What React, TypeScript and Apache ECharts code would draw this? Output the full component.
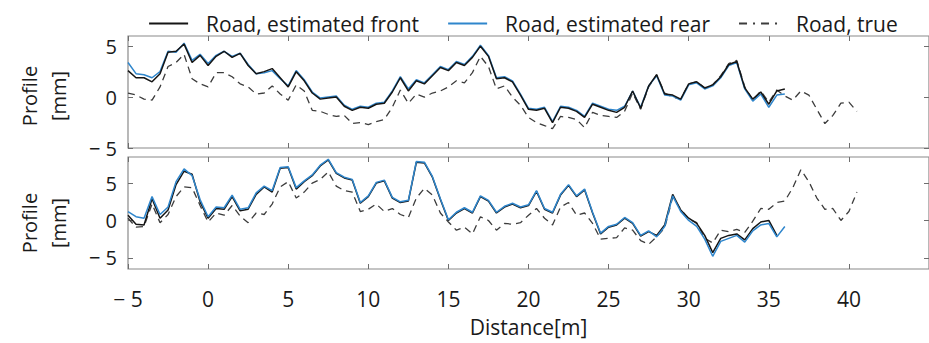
import React, { useEffect, useRef } from 'react';
import * as echarts from 'echarts';

// Distance sampling of the profiles (m)
const X_START = -5;
const X_STEP = 0.5;

const xTickValues = [-5, 0, 5, 10, 15, 20, 25, 30, 35, 40];
const yTickValues = [-5, 0, 5];

const seriesNames = ['Road, estimated front', 'Road, estimated rear', 'Road, true'];

// Top panel (mm), x = -5 ... 36
const topFront = [
  2.6, 1.9, 1.9, 1.5, 2.3, 4.4, 4.5, 5.2, 3.4, 4.1,
  3.1, 4.0, 4.5, 3.9, 4.3, 3.1, 2.3, 2.5, 2.8, 1.9,
  1.0, 2.5, 1.6, 0.4, -0.2, -0.1, 0.0, -0.9, -1.3, -1.0,
  -1.1, -0.7, -0.6, 0.5, 1.9, 0.6, 1.6, 1.3, 2.1, 2.9,
  2.6, 3.4, 3.1, 3.9, 5.0, 4.0, 1.8, 1.9, 1.5, 0.2,
  -1.2, -1.3, -1.1, -2.5, -1.0, -1.1, -1.4, -2.0, -0.7, -1.0,
  -1.3, -1.5, -1.0, 0.6, -1.1, 1.1, 2.2, 0.3, 0.2, -0.2,
  1.3, 1.5, 0.9, 1.2, 2.0, 3.2, 3.5, 0.9, -0.2, 0.5,
  -0.7, 0.6, 0.8,
];
const topRear = [
  3.4, 2.3, 2.2, 1.9, 2.5, 4.5, 4.4, 5.3, 3.6, 4.2,
  3.3, 4.1, 4.5, 4.0, 4.3, 3.2, 2.3, 2.4, 2.6, 1.8,
  1.1, 2.6, 1.7, 0.5, -0.1, 0.0, 0.1, -0.8, -1.2, -0.9,
  -1.0, -0.6, -0.5, 0.6, 2.0, 0.8, 1.7, 1.4, 2.2, 3.0,
  2.7, 3.5, 3.2, 4.0, 5.1, 4.1, 1.9, 2.0, 1.6, 0.3,
  -1.1, -1.2, -1.0, -2.4, -0.9, -1.0, -1.3, -1.9, -0.6, -0.9,
  -1.2, -1.3, -0.9, 0.6, -1.0, 1.1, 2.1, 0.2, 0.1, -0.3,
  1.2, 1.4, 0.8, 1.1, 1.9, 3.1, 3.4, 0.8, -0.4, 0.3,
  -1.0, 0.2, 0.3,
];
const topTrue = [
  0.4, 0.2, -0.2, -0.3, 1.0, 3.0, 3.4, 4.2, 1.8, 1.3,
  1.0, 2.4, 2.4, 2.0, 1.3, 1.0, 0.3, 0.4, 1.1, 0.3,
  -0.3, 1.2, 0.6, -1.3, -1.4, -1.7, -1.9, -1.8, -2.6, -2.5,
  -2.7, -2.4, -2.2, -1.0, 0.7, -0.6, 0.3, 0.0, 0.4, 0.6,
  1.0, 1.6, 1.4, 2.4, 4.0, 3.0, 0.8, 1.1, 0.0, -0.8,
  -2.0, -2.5, -2.8, -3.1, -1.9, -2.0, -2.2, -3.0, -1.5, -1.8,
  -1.9, -2.0, -1.4, 0.4, -1.2, 1.0, 2.2, 0.4, 0.0, -0.2,
  1.3, 1.5, 0.9, 1.2, 2.1, 3.3, 3.6, 1.0, -0.3, 0.6,
  -0.5, 0.7, 0.1, -0.3, 0.6, 0.2, -1.2, -2.6, -1.8, -0.6,
  -0.5, -1.4,
];

// Bottom panel (mm)
const botFront = [
  0.7, -0.5, -0.6, 2.9, 0.3, 1.4, 4.8, 6.6, 6.2, 2.5,
  0.3, 1.6, 1.5, 3.2, 1.3, 1.5, 3.5, 4.5, 3.8, 7.0,
  7.1, 4.2, 5.2, 6.0, 7.3, 8.1, 6.3, 5.7, 5.4, 2.3,
  3.2, 5.0, 5.3, 3.0, 2.4, 2.6, 7.8, 7.7, 5.8, 2.8,
  0.0, 1.0, 1.6, 1.0, 3.2, 2.6, 1.0, 1.8, 2.2, 1.7,
  2.0, 3.9, 1.5, 1.0, 3.4, 4.7, 3.2, 4.1, 1.0, -1.8,
  -0.9, -0.6, 0.3, -0.4, -2.1, -1.5, -2.0, -0.6, 3.5, 1.4,
  0.3, -0.4, -2.0, -4.3, -2.4, -2.0, -1.8, -2.6, -1.1, -0.2,
  0.0, -2.0,
];
const botRear = [
  1.2, 0.5, 0.3, 3.2, 0.8, 1.8, 5.2, 6.9, 6.0, 2.8,
  0.5, 1.8, 1.7, 3.4, 1.5, 1.7, 3.7, 4.6, 4.0, 7.1,
  7.2, 4.4, 5.3, 6.1, 7.4, 8.2, 6.4, 5.8, 5.5, 2.4,
  3.3, 5.1, 5.4, 3.1, 2.5, 2.7, 7.9, 7.8, 5.9, 2.9,
  0.1, 1.1, 1.7, 1.1, 3.3, 2.7, 1.1, 1.9, 2.3, 1.8,
  2.1, 4.0, 1.6, 1.1, 3.5, 4.8, 3.3, 4.2, 1.1, -1.7,
  -0.8, -0.5, 0.4, -0.3, -2.0, -1.4, -2.2, -0.8, 3.3, 1.2,
  0.0, -0.8, -2.5, -4.8, -2.8, -2.4, -2.0, -2.9, -1.4, -0.6,
  -0.4, -2.2, -0.8,
];
const botTrue = [
  0.3, -0.9, -0.8, 2.2, -0.3, 0.8, 3.2, 4.5, 4.4, 2.0,
  -0.2, 1.0, 0.7, 2.0, 0.6, -0.3, 1.0, 0.8, 2.2, 4.5,
  5.2, 3.0, 3.8, 5.0, 5.5, 6.5, 4.6, 4.0, 3.8, 1.2,
  1.5, 2.2, 1.2, 1.6, 0.8, 0.4, 3.0, 4.3, 3.4, 1.0,
  -0.2, -1.3, -0.9, -1.8, 0.5, 0.0, -1.3, -0.4, -0.5, -0.3,
  0.7, 1.6, 0.3, -0.6, 1.8, 2.4, 0.7, 1.0, -0.4, -2.5,
  -2.4, -2.3, -1.0, -1.3, -2.7, -3.2, -2.2, -1.0, 3.1, 1.5,
  0.2, -0.3, -2.4, -3.0, -1.3, -1.5, -1.2, -1.6, -0.1, 1.6,
  1.5, 2.4, 2.6, 4.4, 6.8, 5.2, 3.0, 1.5, 1.6, 0.0,
  1.2, 3.8,
];

const toPairs = (vals: number[]) => vals.map((v, i) => [X_START + i * X_STEP, v]);

const FONT = 'Open Sans';
const TXT = '#1a1a1a';
const FRONT_COLOR = '#151515';
const REAR_COLOR = '#2f86cc';
const TRUE_COLOR = '#3c3c3c';

const fmt = (v: number) => (v < 0 ? '\u2212 ' + Math.abs(v) : String(v));

export default function App() {
  const ref = useRef<HTMLDivElement>(null);

  useEffect(() => {
    if (!ref.current) return;
    const chart = echarts.init(ref.current, undefined, { renderer: 'svg' });

    const gridLeft = 128;
    const gridWidth = 803.5;

    const xAxisBase = (gridIndex: number, position: string, labels: boolean) => ({
      type: 'value',
      gridIndex,
      position,
      min: -5,
      max: 45,
      interval: 5,
      axisLine: { show: false, onZero: false },
      axisTick: {
        show: true,
        inside: true,
        length: 5,
        customValues: xTickValues,
        lineStyle: { color: '#6e6e6e', width: 1 },
      },
      axisLabel: labels
        ? {
            show: true,
            customValues: xTickValues,
            formatter: fmt,
            fontSize: 21,
            fontFamily: FONT,
            color: TXT,
            margin: 19,
          }
        : { show: false },
      splitLine: { show: false },
      ...(labels
        ? {
            name: 'Distance[m]',
            nameLocation: 'middle',
            nameGap: 47,
            nameTextStyle: { fontSize: 21, fontFamily: FONT, color: TXT },
          }
        : {}),
    });

    const yAxisBase = (gridIndex: number, position: string, min: number, max: number, labels: boolean) => ({
      type: 'value',
      gridIndex,
      position,
      min,
      max,
      axisLine: { show: false, onZero: false },
      axisTick: {
        show: true,
        inside: true,
        length: 5,
        customValues: yTickValues,
        lineStyle: { color: '#6e6e6e', width: 1 },
      },
      axisLabel: labels
        ? {
            show: true,
            customValues: yTickValues,
            formatter: fmt,
            fontSize: 20,
            fontFamily: FONT,
            color: TXT,
            margin: 11,
          }
        : { show: false },
      splitLine: { show: false },
    });

    const lineSeries = (name: string, vals: number[], idx: number, color: string, dashed: boolean, z: number) => ({
      type: 'line',
      name,
      data: toPairs(vals),
      xAxisIndex: idx * 2,
      yAxisIndex: idx * 2,
      showSymbol: false,
      symbol: 'none',
      z,
      lineStyle: {
        color,
        width: dashed ? 1.3 : 1.5,
        type: dashed ? [7, 5] : 'solid',
      },
      itemStyle: { color },
    });

    chart.setOption({
      animation: false,
      backgroundColor: '#ffffff',
      textStyle: { fontFamily: FONT },
      legend: {
        top: 8,
        left: 143,
        itemWidth: 39,
        itemHeight: 14,
        itemGap: 28,
        itemStyle: { opacity: 0 },
        textStyle: { fontSize: 21, fontFamily: FONT, color: TXT, padding: [0, 0, 0, 13] },
        data: [
          { name: seriesNames[0], lineStyle: { width: 2.2 } },
          { name: seriesNames[1], lineStyle: { width: 2.2 } },
          { name: seriesNames[2], lineStyle: { type: [8, 6, 2, 6], width: 2 } },
        ],
      },
      grid: [
        { left: gridLeft, top: 36, width: gridWidth, height: 112, show: true, borderColor: '#8a8a8a', borderWidth: 1.2, containLabel: false },
        { left: gridLeft, top: 157, width: gridWidth, height: 112, show: true, borderColor: '#8a8a8a', borderWidth: 1.2, containLabel: false },
      ],
      xAxis: [
        xAxisBase(0, 'bottom', false),
        xAxisBase(0, 'top', false),
        xAxisBase(1, 'bottom', true),
        xAxisBase(1, 'top', false),
      ],
      yAxis: [
        yAxisBase(0, 'left', -5, 6, true),
        yAxisBase(0, 'right', -5, 6, false),
        yAxisBase(1, 'left', -6.5, 8.5, true),
        yAxisBase(1, 'right', -6.5, 8.5, false),
      ],
      graphic: [
        {
          type: 'text',
          x: 44,
          y: 96,
          rotation: Math.PI / 2,
          style: {
            text: 'Profile\n[mm]',
            font: '20px "Open Sans"',
            fill: TXT,
            textAlign: 'center',
            textVerticalAlign: 'middle',
            lineHeight: 29,
          },
        },
        {
          type: 'text',
          x: 44,
          y: 223,
          rotation: Math.PI / 2,
          style: {
            text: 'Profile\n[mm]',
            font: '20px "Open Sans"',
            fill: TXT,
            textAlign: 'center',
            textVerticalAlign: 'middle',
            lineHeight: 29,
          },
        },
      ],
      series: [
        lineSeries(seriesNames[2], topTrue, 0, TRUE_COLOR, true, 2),
        lineSeries(seriesNames[1], topRear, 0, REAR_COLOR, false, 3),
        lineSeries(seriesNames[0], topFront, 0, FRONT_COLOR, false, 4),
        lineSeries(seriesNames[2], botTrue, 1, TRUE_COLOR, true, 2),
        lineSeries(seriesNames[0], botFront, 1, FRONT_COLOR, false, 3),
        lineSeries(seriesNames[1], botRear, 1, REAR_COLOR, false, 4),
      ],
    });

    return () => chart.dispose();
  }, []);

  return (
    <div
      ref={ref}
      style={{ position: 'absolute', left: 0, top: 0, width: 929, height: 343 }}
    />
  );
}
